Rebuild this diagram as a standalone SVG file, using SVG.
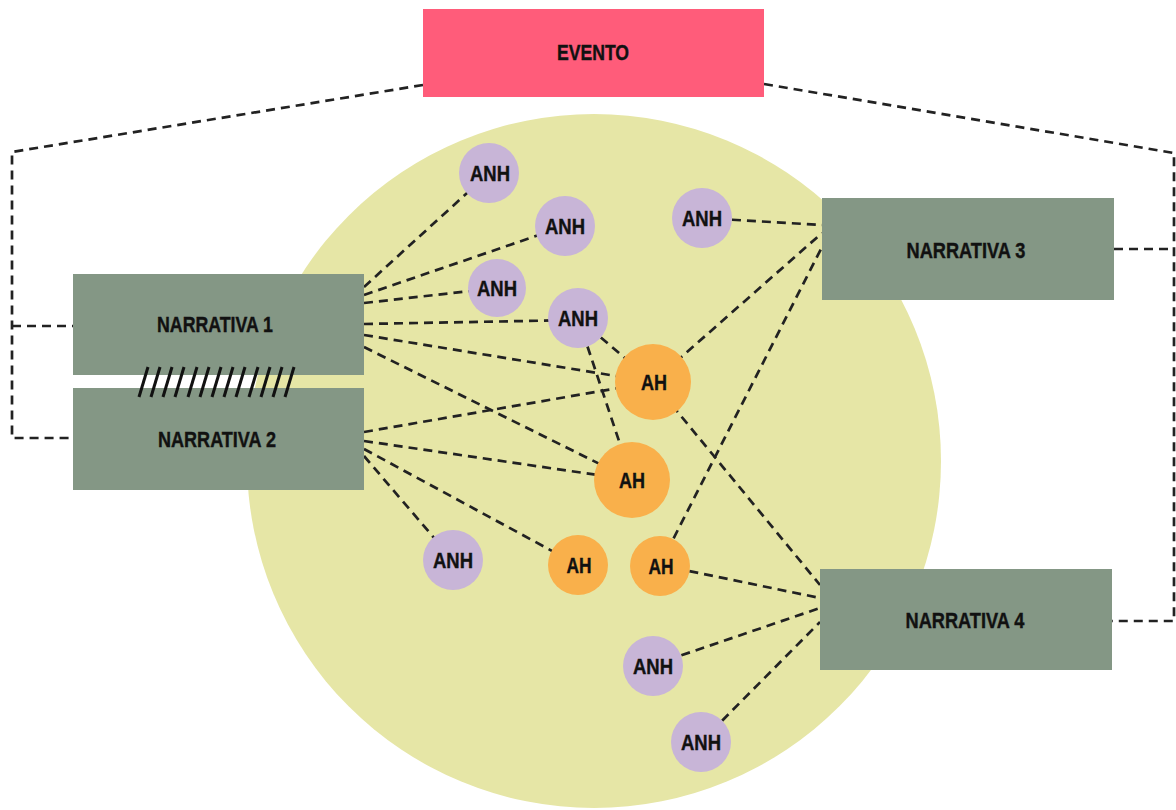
<svg xmlns="http://www.w3.org/2000/svg" width="1176" height="810" viewBox="0 0 1176 810">
<style>
.t{font-family:"Liberation Sans Narrow","Liberation Sans",Arial,sans-serif;font-weight:bold;font-size:22px;fill:#111;stroke:#111;stroke-width:0.4;text-anchor:middle}
.c{fill:none;stroke:#222;stroke-width:2.7;stroke-dasharray:9 6}
.anh{fill:#C8B5D7}
.ah{fill:#F9B04B}
.nar{fill:#849785}
.hatch{stroke:#111;stroke-width:3}
</style>
<rect width="1176" height="810" fill="#fff"/>
<circle id="field" cx="594" cy="461" r="347" fill="#E6E6A6"/>
<g id="connectors">
<path class="c" d="M423,85 L12,152 L12,438 L73,438 M12,326 L73,326"/>
<path class="c" d="M764,84 L1174,153 L1174,621 L1112,621 M1114,249 L1174,249"/>
<path class="c" d="M364,287 L489,173"/>
<path class="c" d="M364,295 L565,226"/>
<path class="c" d="M364,303 L497,288"/>
<path class="c" d="M364,324 L578,320"/>
<path class="c" d="M364,335 L653,382"/>
<path class="c" d="M364,347 L632,480"/>
<path class="c" d="M364,432 L653,382"/>
<path class="c" d="M364,441 L632,480"/>
<path class="c" d="M364,449 L578,565"/>
<path class="c" d="M364,456 L453,560"/>
<path class="c" d="M578,318 L653,382"/>
<path class="c" d="M578,318 L632,480"/>
<path class="c" d="M702,218 L822,225"/>
<path class="c" d="M653,382 L822,233"/>
<path class="c" d="M660,565 L822,247"/>
<path class="c" d="M653,382 L820,585"/>
<path class="c" d="M660,565 L820,598"/>
<path class="c" d="M653,665 L820,608"/>
<path class="c" d="M701,742 L820,622"/>
</g>
<g id="evento"><rect x="423" y="9" width="341" height="88" fill="#FF5C7A"/><text class="t" x="593" y="60" textLength="72" lengthAdjust="spacingAndGlyphs">EVENTO</text></g>
<g id="narrativa1"><rect class="nar" x="73" y="274" width="291" height="101"/><text class="t" x="215" y="332" textLength="116" lengthAdjust="spacingAndGlyphs">NARRATIVA 1</text></g>
<g id="narrativa2"><rect class="nar" x="73" y="388" width="291" height="102"/><text class="t" x="217" y="447" textLength="118" lengthAdjust="spacingAndGlyphs">NARRATIVA 2</text></g>
<g id="narrativa3"><rect class="nar" x="822" y="198" width="292" height="102"/><text class="t" x="966" y="258" textLength="119" lengthAdjust="spacingAndGlyphs">NARRATIVA 3</text></g>
<g id="narrativa4"><rect class="nar" x="820" y="569" width="292" height="101"/><text class="t" x="965" y="628" textLength="119" lengthAdjust="spacingAndGlyphs">NARRATIVA 4</text></g>
<g id="anh1"><circle class="anh" cx="489" cy="173" r="30"/><text class="t" x="490" y="181" textLength="40" lengthAdjust="spacingAndGlyphs">ANH</text></g>
<g id="anh2"><circle class="anh" cx="565" cy="226" r="30"/><text class="t" x="565" y="234" textLength="40" lengthAdjust="spacingAndGlyphs">ANH</text></g>
<g id="anh3"><circle class="anh" cx="497" cy="288" r="29"/><text class="t" x="497" y="296" textLength="40" lengthAdjust="spacingAndGlyphs">ANH</text></g>
<g id="anh4"><circle class="anh" cx="578" cy="318" r="30"/><text class="t" x="578" y="326" textLength="40" lengthAdjust="spacingAndGlyphs">ANH</text></g>
<g id="anh5"><circle class="anh" cx="702" cy="218" r="30"/><text class="t" x="702" y="226" textLength="40" lengthAdjust="spacingAndGlyphs">ANH</text></g>
<g id="anh6"><circle class="anh" cx="453" cy="560" r="30"/><text class="t" x="453" y="568" textLength="40" lengthAdjust="spacingAndGlyphs">ANH</text></g>
<g id="anh7"><circle class="anh" cx="653" cy="666" r="30"/><text class="t" x="653" y="674" textLength="40" lengthAdjust="spacingAndGlyphs">ANH</text></g>
<g id="anh8"><circle class="anh" cx="701" cy="742" r="30"/><text class="t" x="701" y="750" textLength="40" lengthAdjust="spacingAndGlyphs">ANH</text></g>
<g id="ah1"><circle class="ah" cx="653" cy="382" r="38"/><text class="t" x="654" y="390" textLength="26" lengthAdjust="spacingAndGlyphs">AH</text></g>
<g id="ah2"><circle class="ah" cx="632" cy="480" r="38"/><text class="t" x="632" y="488" textLength="26" lengthAdjust="spacingAndGlyphs">AH</text></g>
<g id="ah3"><circle class="ah" cx="578" cy="565" r="30"/><text class="t" x="579" y="573" textLength="25" lengthAdjust="spacingAndGlyphs">AH</text></g>
<g id="ah4"><circle class="ah" cx="660" cy="566" r="30"/><text class="t" x="661" y="574" textLength="25" lengthAdjust="spacingAndGlyphs">AH</text></g>
<g id="hatch" class="hatch">
<line x1="139" y1="397" x2="148" y2="367"/>
<line x1="151" y1="397" x2="160" y2="367"/>
<line x1="163" y1="397" x2="172" y2="367"/>
<line x1="175" y1="397" x2="184" y2="367"/>
<line x1="188" y1="397" x2="197" y2="367"/>
<line x1="200" y1="397" x2="209" y2="367"/>
<line x1="212" y1="397" x2="221" y2="367"/>
<line x1="224" y1="397" x2="233" y2="367"/>
<line x1="236" y1="397" x2="245" y2="367"/>
<line x1="249" y1="397" x2="258" y2="367"/>
<line x1="261" y1="397" x2="270" y2="367"/>
<line x1="273" y1="397" x2="282" y2="367"/>
<line x1="285" y1="397" x2="294" y2="367"/>
</g>
</svg>
